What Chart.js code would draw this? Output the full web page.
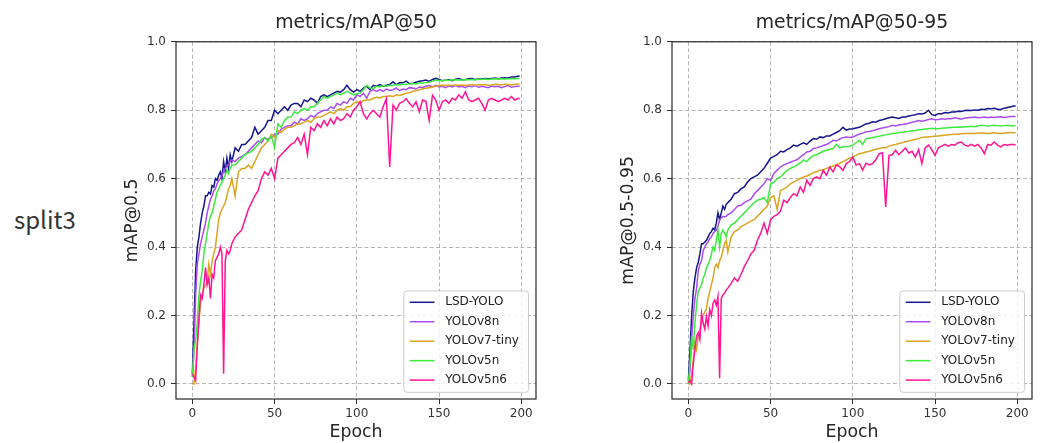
<!DOCTYPE html>
<html>
<head>
<meta charset="utf-8">
<script src="https://cdn.jsdelivr.net/npm/chart.js@4.4.1/dist/chart.umd.min.js"></script>
<style>
html,body{margin:0;padding:0;background:#fff;width:1045px;height:443px;overflow:hidden;position:relative;}
#c1{position:absolute;left:0;top:0;}
#c2{position:absolute;left:540px;top:0;}
#split{position:absolute;left:14px;top:205px;font-family:"Noto Sans CJK SC","Noto Sans",sans-serif;font-size:24px;line-height:28px;color:#333;}
</style>
</head>
<body>
<div id="split">split3</div>
<canvas id="c1" width="540" height="443"></canvas>
<canvas id="c2" width="505" height="443"></canvas>
<script>
// ---------------- data ----------------
const modelNames = ["LSD-YOLO", "YOLOv8n", "YOLOv7-tiny", "YOLOv5n", "YOLOv5n6"];
const modelColors = ["#16168c", "#a94cf0", "#daa520", "#3fea3f", "#ff1493"];
const xTicks = [0, 50, 100, 150, 200];
const yTicks = [0.0, 0.2, 0.4, 0.6, 0.8, 1.0];

const epochs = [0,1,2,3,4,5,6,7,8,9,10,11,12,13,14,15,16,17,18,19,20,21,22,23,24,
  26,28,30,32,34,36,38,40,42,44,
  46,48,50,52,54,56,58,60,62,64,
  66,68,70,72,74,76,78,80,82,84,
  86,88,90,92,94,96,98,100,102,104,
  106,108,110,112,114,116,118,120,122,124,
  126,128,130,132,134,136,138,140,142,144,
  146,148,150,152,154,156,158,160,162,164,
  166,168,170,172,174,176,178,180,182,184,
  186,188,190,192,194,196,198,
  199];

// metrics/mAP@50
const lsd50 = [.03,.18,.33,.40,.43,.47,.50,.52,.55,.55,.56,.555,.58,.575,.60,.595,.61,.62,.60,.65,.62,.66,.63,.67,.65,
  .69,.68,.70,.70,.71,.72,.75,.73,.74,.75,
  .77,.77,.80,.79,.80,.81,.80,.815,.82,.82,
  .81,.83,.825,.835,.83,.82,.84,.845,.84,.845,
  .85,.855,.853,.86,.873,.86,.853,.86,.855,.865,
  .87,.86,.873,.87,.875,.87,.873,.875,.883,.875,
  .88,.88,.885,.878,.878,.882,.885,.886,.888,.884,
  .89,.893,.89,.886,.888,.889,.886,.891,.893,.889,
  .89,.892,.893,.89,.892,.891,.893,.892,.893,.894,
  .892,.894,.895,.894,.897,.897,.899,
  .90];
const v8n50 = [.02,.10,.26,.35,.38,.41,.43,.45,.47,.50,.52,.54,.55,.565,.57,.585,.595,.60,.61,.62,.63,.635,.64,.65,.655,
  .65,.66,.665,.67,.68,.69,.70,.71,.705,.72,
  .715,.72,.73,.73,.745,.75,.755,.755,.765,.76,
  .775,.77,.775,.785,.78,.79,.795,.80,.80,.81,
  .805,.82,.815,.825,.82,.835,.83,.845,.84,.85,
  .835,.855,.86,.855,.86,.855,.862,.858,.86,.865,
  .857,.862,.86,.866,.865,.862,.868,.866,.87,.872,
  .868,.873,.868,.87,.866,.871,.868,.872,.868,.87,
  .866,.871,.869,.872,.867,.87,.868,.866,.871,.869,
  .87,.866,.869,.872,.867,.869,.87,
  .87];
const v7t50 = [.0,.0,.05,.12,.18,.24,.26,.28,.29,.30,.35,.32,.36,.38,.40,.44,.48,.50,.51,.52,.53,.55,.57,.58,.60,
  .55,.62,.63,.63,.64,.63,.65,.67,.69,.70,
  .71,.73,.72,.74,.735,.745,.75,.75,.755,.76,
  .76,.765,.77,.765,.775,.78,.78,.785,.79,.795,
  .79,.80,.805,.80,.81,.81,.82,.825,.82,.828,
  .83,.83,.835,.838,.836,.84,.84,.842,.84,.845,
  .843,.846,.85,.852,.855,.857,.86,.862,.864,.866,
  .868,.87,.872,.873,.872,.873,.872,.874,.873,.874,
  .872,.874,.875,.873,.875,.874,.875,.873,.874,.876,
  .875,.874,.876,.875,.874,.876,.876,
  .877];
const v5n50 = [.02,.10,.13,.18,.26,.30,.33,.38,.41,.44,.47,.49,.50,.52,.54,.56,.57,.58,.59,.60,.61,.625,.615,.63,.64,
  .64,.65,.66,.67,.675,.68,.69,.70,.715,.72,
  .71,.725,.69,.76,.75,.77,.78,.78,.795,.79,
  .80,.805,.80,.81,.81,.82,.83,.84,.835,.84,
  .845,.85,.845,.85,.855,.85,.845,.848,.85,.86,
  .873,.865,.863,.87,.868,.872,.87,.873,.872,.875,
  .874,.876,.875,.877,.878,.877,.88,.879,.881,.882,
  .885,.888,.887,.886,.888,.887,.889,.888,.889,.888,
  .89,.889,.89,.889,.891,.89,.891,.89,.891,.892,
  .891,.892,.891,.892,.893,.892,.893,
  .893];
const v5n6_50 = [.03,.02,.01,.11,.19,.26,.25,.29,.34,.29,.31,.25,.32,.31,.36,.37,.38,.40,.38,.03,.36,.39,.38,.39,.41,
  .43,.44,.45,.48,.51,.53,.55,.565,.60,.62,
  .61,.63,.60,.66,.67,.68,.69,.70,.705,.72,
  .70,.73,.67,.75,.74,.76,.75,.77,.755,.775,
  .76,.78,.77,.775,.79,.78,.80,.81,.825,.79,
  .775,.79,.80,.79,.78,.81,.834,.634,.815,.80,
  .82,.825,.834,.82,.81,.825,.795,.83,.826,.77,
  .844,.83,.80,.825,.83,.82,.835,.83,.845,.835,
  .854,.83,.825,.83,.835,.82,.80,.83,.835,.83,
  .825,.83,.835,.83,.84,.83,.835,
  .833];

// metrics/mAP@50-95
const lsd5095 = [.01,.10,.20,.27,.31,.34,.355,.38,.41,.41,.415,.42,.43,.44,.445,.455,.45,.47,.50,.48,.50,.52,.51,.525,.53,
  .54,.556,.56,.57,.576,.59,.60,.605,.61,.62,
  .63,.645,.66,.665,.67,.68,.678,.685,.69,.698,
  .695,.70,.705,.70,.71,.717,.715,.722,.72,.725,
  .725,.73,.735,.74,.75,.742,.745,.746,.748,.75,
  .755,.76,.762,.766,.765,.77,.772,.775,.778,.78,
  .778,.776,.78,.78,.783,.785,.787,.79,.789,.792,
  .80,.787,.785,.79,.79,.793,.792,.795,.795,.797,
  .796,.799,.80,.799,.801,.80,.803,.802,.805,.804,
  .806,.803,.802,.806,.808,.81,.812,
  .812];
const v8n5095 = [.0,.04,.13,.20,.25,.28,.33,.35,.36,.39,.40,.41,.415,.425,.43,.44,.445,.45,.46,.48,.485,.49,.488,.49,.495,
  .50,.51,.52,.522,.53,.535,.54,.555,.565,.575,
  .585,.60,.595,.615,.625,.634,.64,.644,.648,.652,
  .655,.663,.67,.678,.68,.688,.69,.693,.697,.70,
  .705,.712,.71,.716,.72,.722,.72,.722,.726,.73,
  .733,.737,.738,.74,.743,.746,.748,.75,.752,.756,
  .754,.757,.758,.76,.762,.765,.767,.77,.768,.77,
  .773,.775,.772,.773,.775,.774,.776,.775,.778,.776,
  .774,.777,.778,.779,.78,.778,.779,.78,.778,.78,
  .779,.78,.781,.779,.78,.782,.782,
  .782];
const v7t5095 = [.0,.0,.03,.07,.12,.10,.14,.16,.18,.20,.21,.22,.25,.27,.29,.31,.34,.35,.34,.36,.37,.39,.41,.42,.385,
  .43,.445,.45,.46,.465,.47,.476,.48,.49,.50,
  .51,.52,.545,.55,.51,.565,.57,.575,.585,.59,
  .595,.60,.605,.608,.612,.618,.62,.625,.626,.63,
  .634,.637,.64,.645,.65,.655,.66,.663,.668,.673,
  .675,.678,.68,.683,.686,.688,.69,.69,.695,.698,
  .70,.703,.705,.708,.71,.712,.715,.717,.72,.722,
  .722,.723,.724,.725,.726,.727,.728,.729,.73,.73,
  .731,.732,.732,.733,.732,.733,.734,.733,.732,.733,
  .734,.733,.732,.733,.734,.735,.734,
  .734];
const v5n5095 = [.0,.06,.14,.10,.18,.23,.27,.28,.29,.31,.32,.34,.35,.36,.38,.40,.39,.42,.45,.40,.44,.45,.44,.43,.45,
  .465,.47,.48,.49,.50,.51,.52,.53,.537,.54,
  .545,.53,.585,.59,.60,.605,.615,.624,.63,.634,
  .64,.645,.655,.65,.66,.668,.67,.675,.68,.683,
  .685,.688,.70,.69,.693,.693,.695,.698,.705,.712,
  .70,.717,.718,.72,.722,.724,.726,.728,.73,.732,
  .733,.735,.736,.737,.738,.74,.741,.743,.744,.745,
  .746,.747,.746,.746,.747,.748,.749,.75,.75,.751,
  .75,.752,.752,.753,.752,.754,.756,.755,.754,.755,
  .756,.755,.754,.755,.756,.755,.755,
  .755];
const v5n6_5095 = [.003,.01,.0,.06,.10,.14,.15,.13,.207,.178,.16,.197,.17,.217,.20,.236,.245,.23,.255,.017,.25,.26,.265,.275,.28,
  .294,.31,.30,.32,.343,.36,.38,.39,.42,.44,
  .47,.44,.48,.49,.495,.505,.537,.53,.545,.556,
  .55,.576,.56,.595,.58,.60,.605,.60,.624,.61,
  .634,.62,.64,.635,.624,.644,.65,.663,.64,.644,
  .625,.645,.64,.644,.655,.673,.676,.517,.668,.67,
  .683,.67,.68,.69,.675,.68,.663,.685,.644,.69,
  .698,.685,.668,.69,.695,.70,.695,.70,.698,.705,
  .707,.698,.695,.70,.695,.70,.69,.673,.70,.698,
  .707,.698,.693,.70,.698,.70,.70,
  .698];

// ---------------- chart building ----------------
const FONT = "DejaVu Sans";
[lsd50,v8n50,v7t50,v5n50,v5n6_50,lsd5095,v8n5095,v7t5095,v5n5095,v5n6_5095].forEach((a,i)=>{
  if (a.length !== epochs.length) throw new Error("series " + i + " length " + a.length + " != " + epochs.length);
});

function pts(vals){ return vals.map((v,i)=>({x: epochs[i], y: v})); }

const frameAndLegend = {
  id: 'frameAndLegend',
  afterDatasetsDraw(chart){
    const {ctx, chartArea: a} = chart;
    ctx.save();
    ctx.strokeStyle = '#262626';
    ctx.lineWidth = 1.2;
    ctx.strokeRect(a.left, a.top, a.right - a.left, a.bottom - a.top);
    ctx.restore();
  },
  afterDraw(chart){
    const {ctx, chartArea: a} = chart;
    const bw = 124.6, bh = 101.3;
    const bx = a.right - 7.5 - bw, by = 291;
    ctx.save();
    ctx.beginPath();
    ctx.roundRect(bx, by, bw, bh, 3);
    ctx.fillStyle = 'rgba(255,255,255,0.8)';
    ctx.fill();
    ctx.strokeStyle = 'rgba(200,200,200,0.9)';
    ctx.lineWidth = 1;
    ctx.stroke();
    ctx.font = '12px "' + FONT + '"';
    ctx.textBaseline = 'middle';
    ctx.textAlign = 'left';
    chart.data.datasets.forEach((ds, i) => {
      const y = by + 11.3 + i * 19.45;
      ctx.beginPath();
      ctx.moveTo(bx + 5.8, y);
      ctx.lineTo(bx + 30.6, y);
      ctx.strokeStyle = ds.borderColor;
      ctx.lineWidth = 1.5;
      ctx.stroke();
      ctx.fillStyle = '#222';
      ctx.fillText(ds.label, bx + 41.3, y);
    });
    ctx.restore();
  }
};

function makeChart(canvasId, title, yTitle, seriesList, opts){
  const datasets = seriesList.map((vals, i) => ({
    label: modelNames[i],
    data: pts(vals),
    borderColor: modelColors[i],
    backgroundColor: modelColors[i],
    borderWidth: 1.5,
    pointRadius: 0,
    tension: 0,
    fill: false,
    order: seriesList.length - i
  }));
  const gridCommon = {
    color: 'rgba(165,165,165,0.9)',
    lineWidth: 0.9,
    drawTicks: true,
    tickLength: 5,
    tickColor: '#333',
    tickWidth: 1,
    tickBorderDash: []
  };
  return new Chart(document.getElementById(canvasId), {
    type: 'line',
    data: { datasets },
    options: {
      responsive: false,
      animation: false,
      events: [],
      layout: { padding: { left: 0, right: opts.padRight, top: 0, bottom: 0 } },
      plugins: {
        legend: { display: false },
        tooltip: { enabled: false },
        title: {
          display: true,
          text: title,
          fullSize: false,
          color: '#262626',
          font: { family: FONT, size: 18.8, weight: 'normal' },
          padding: { top: 12, bottom: 7.24 }
        }
      },
      scales: {
        x: {
          type: 'linear',
          min: -9.95,
          max: 208.95,
          afterBuildTicks: s => { s.ticks = xTicks.map(v => ({ value: v })); },
          afterFit: s => { s.height = 44; },
          ticks: {
            autoSkip: false, maxRotation: 0, padding: 3,
            color: '#333', font: { family: FONT, size: 12 },
            callback: v => String(v)
          },
          grid: gridCommon,
          border: { display: false, dash: [4, 2.5] },
          title: {
            display: true, text: 'Epoch', color: '#262626',
            font: { family: FONT, size: 17.3 },
            padding: { top: 0, bottom: 0 }
          }
        },
        y: {
          type: 'linear',
          min: -0.044,
          max: 1.0,
          afterBuildTicks: s => { s.ticks = yTicks.map(v => ({ value: v })); },
          afterFit: s => { s.width = opts.yWidth; },
          ticks: {
            autoSkip: false, padding: 5,
            color: '#333', font: { family: FONT, size: 12 },
            callback: v => Number(v).toFixed(1)
          },
          grid: gridCommon,
          border: { display: false, dash: [4, 2.5] },
          title: {
            display: true, text: yTitle, color: '#262626',
            font: { family: FONT, size: 17.3 },
            padding: { top: opts.yTitlePad, bottom: 0 }
          }
        }
      }
    },
    plugins: [frameAndLegend]
  });
}

makeChart('c1', 'metrics/mAP@50', 'mAP@0.5',
  [lsd50, v8n50, v7t50, v5n50, v5n6_50],
  { padRight: 4, yWidth: 176, yTitlePad: 122.2 });
makeChart('c2', 'metrics/mAP@50-95', 'mAP@0.5-0.95',
  [lsd5095, v8n5095, v7t5095, v5n5095, v5n6_5095],
  { padRight: 13, yWidth: 132, yTitlePad: 78.4 });
</script>
</body>
</html>
